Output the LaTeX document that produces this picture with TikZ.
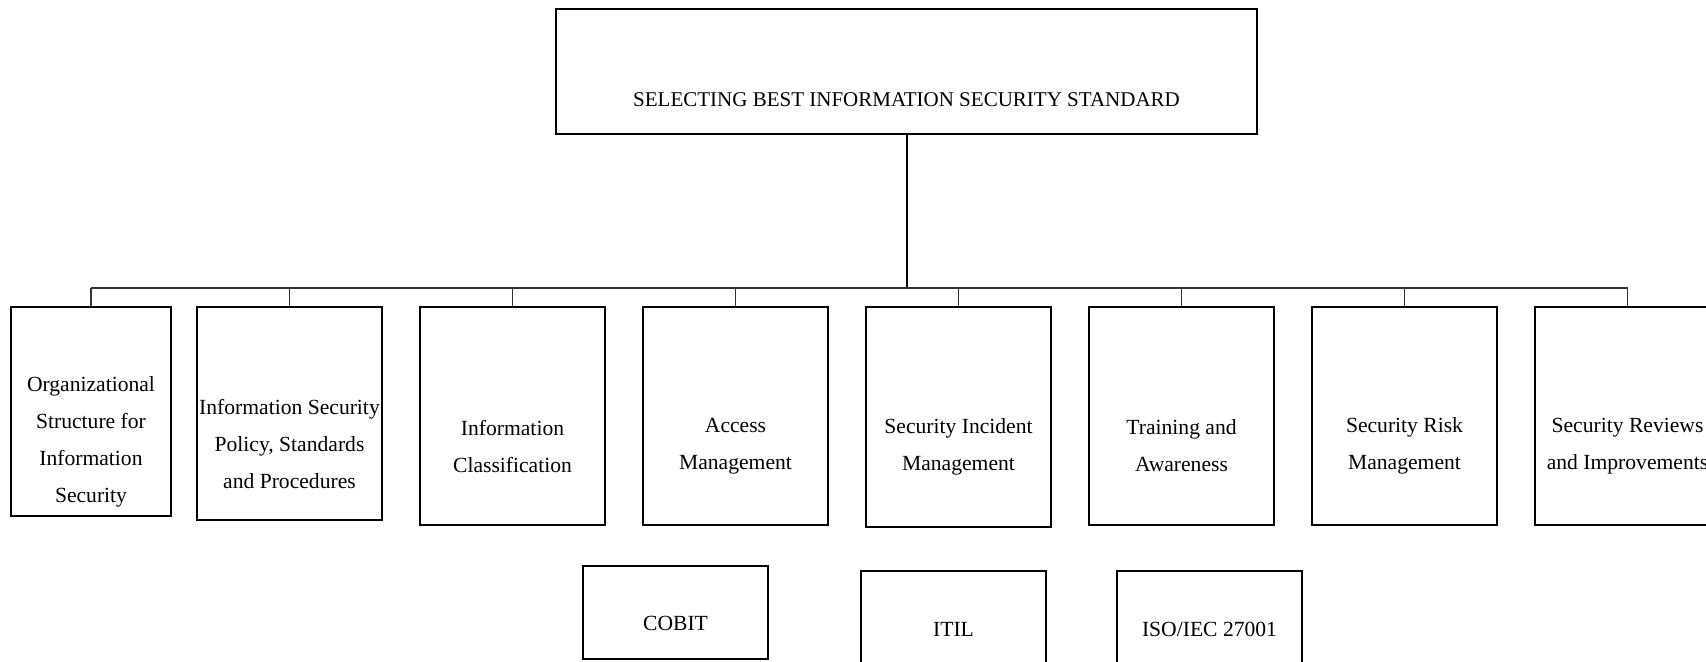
\documentclass[tikz,border=0pt]{standalone}
\usepackage{fontspec}
\setmainfont{Liberation Serif}
\begin{document}
\begin{tikzpicture}[x=0.5pt, y=-0.5pt,
	frame/.style={draw, line width=1pt, inner sep=0pt, minimum width=92.5pt, minimum height=109pt},
	txt/.style={align=center, inner sep=0pt, font=\fontsize{10.8}{18.5}\selectfont}]
	\useasboundingbox (0,0) rectangle (1706,662);
	% top box
	\node[frame, minimum width=350.5pt, minimum height=62.5pt] (top) at (906.5,71.5) {};
	\node[txt, font=\fontsize{10.5}{12}\selectfont] (top-t) at (906.5,100) {SELECTING BEST INFORMATION SECURITY STANDARD};
	% areas
	\node[frame, minimum width=80pt, minimum height=104.5pt] (b1) at (91,411.5) {};
	\node[frame, minimum height=106.5pt] (b2) at (289.5,413.5) {};
	\node[frame] (b3) at (512.5,416) {};
	\node[frame] (b4) at (735.5,416) {};
	\node[frame, minimum height=110pt] (b5) at (958.5,417) {};
	\node[frame] (b6) at (1181.5,416) {};
	\node[frame] (b7) at (1404.5,416) {};
	\node[frame] (b8) at (1627.5,416) {};
	\node[txt] (b1-t) at (91,442) {Organizational\\Structure for\\Information\\Security};
	\node[txt] (b2-t) at (289.5,444) {Information Security\\Policy, Standards\\and Procedures};
	\node[txt] (b3-t) at (512.5,446) {Information\\Classification};
	\node[txt] (b4-t) at (735.5,446) {Access\\Management};
	\node[txt] (b5-t) at (958.5,447) {Security Incident\\Management};
	\node[txt] (b6-t) at (1181.5,446) {Training and\\Awareness};
	\node[txt] (b7-t) at (1404.5,446) {Security Risk\\Management};
	\node[txt] (b8-t) at (1627.5,446) {Security Reviews\\and Improvements};
	% standards
	\node[frame, minimum height=46.5pt] (cobit) at (675.5,612.5) {};
	\node[frame, minimum height=47.5pt] (itil) at (953.5,618.5) {};
	\node[frame, minimum height=47.5pt] (iso) at (1209.5,618.5) {};
	\node[txt] (cobit-t) at (675.5,623) {COBIT};
	\node[txt] (itil-t) at (953.5,629) {ITIL};
	\node[txt] (iso-t) at (1209.5,629) {ISO/IEC 27001};
	% connectors
	\coordinate (bus) at (906.5,288);
	\draw[line width=1pt] (top.south) -- (bus);
	\draw[line width=0.6pt, black!80] (b1.north |- bus) -- (b8.north |- bus);
	\foreach \i in {1,...,8} {
		\draw[line width=0.6pt, black!80] (b\i.north) -- (b\i.north |- bus);
	}
\end{tikzpicture}
\end{document}
